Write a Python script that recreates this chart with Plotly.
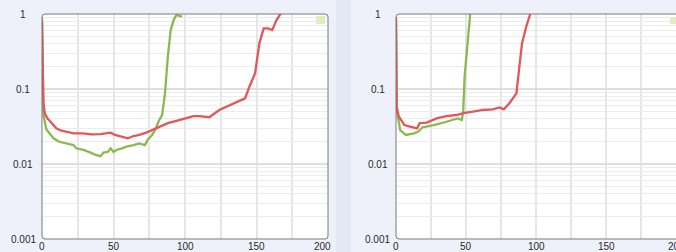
import math
import plotly.graph_objects as go

# ---------------- data ----------------
left_green_x = [0, 1, 3, 6, 8, 12, 17, 22, 24, 29, 34, 38, 41, 43, 46, 48, 50, 52, 56, 59,
                64, 68, 72, 74, 77, 79, 82, 84, 86, 88, 90, 92, 94, 98]
left_green_y = [0.9, 0.045, 0.029, 0.024, 0.022, 0.0198, 0.0188, 0.0179, 0.0162, 0.0154,
                0.0142, 0.0131, 0.0127, 0.0142, 0.0145, 0.0162, 0.0145, 0.0154, 0.0162, 0.0170,
                0.0179, 0.0188, 0.0179, 0.0211, 0.0244, 0.0283, 0.0386, 0.045, 0.0875, 0.27,
                0.61, 0.83, 0.97, 0.92]

left_red_x = [0, 1, 2, 4, 6, 9, 10, 13, 17, 22, 29, 34, 41, 48, 51, 55, 57, 60, 64, 68,
              73, 78, 82, 88, 94, 100, 106, 110, 117, 124, 134, 142, 145, 149, 152, 155,
              158, 161, 164, 167]
left_red_y = [0.8, 0.065, 0.047, 0.04, 0.0366, 0.031, 0.0299, 0.028, 0.027, 0.0256, 0.0256,
              0.0249, 0.025, 0.0262, 0.0244, 0.0232, 0.0226, 0.022, 0.0236, 0.0244, 0.0262,
              0.029, 0.0315, 0.035, 0.0375, 0.040, 0.0436, 0.0436, 0.042, 0.0525, 0.0645,
              0.075, 0.107, 0.161, 0.406, 0.644, 0.644, 0.61, 0.83, 1.02]

right_red_x = [0, 0.5, 2, 6, 10, 15, 17, 22, 29, 36, 43, 49, 55, 62, 69, 74, 77, 81, 86,
               88, 90, 93, 96]
right_red_y = [0.9, 0.058, 0.043, 0.033, 0.0315, 0.0299, 0.035, 0.0357, 0.0406, 0.0436,
               0.045, 0.048, 0.0498, 0.0525, 0.0536, 0.0568, 0.0536, 0.0645, 0.0875, 0.179,
               0.406, 0.677, 1.02]

right_green_x = [0, 0.5, 3, 7, 13, 16, 19, 27, 36, 44, 47, 48, 49, 51, 53]
right_green_y = [0.9, 0.0525, 0.0283, 0.0244, 0.0256, 0.027, 0.0309, 0.033, 0.0366, 0.0406,
                 0.0386, 0.0498, 0.146, 0.406, 1.0]

y_tick_vals = [1, 0.1, 0.01, 0.001]
y_tick_text = ["1", "0.1", "0.01", "0.001"]
x_tick_vals = [0, 50, 100, 150, 200]
x_tick_text = ["0", "50", "100", "150", "200"]

# ---------------- layout geometry (pixels) ----------------
W, H = 676, 252
L1, R1 = 42, 328
L2, R2 = 396, 676
T, B = 14, 239

RED = "#e2575a"
GREEN = "#8cb94f"
FONT = dict(family="Liberation Sans, Arial, sans-serif", size=10, color="#2a2a2a")
XLAB_CENTER_Y = 246.5  # pixel row of x tick label centres


def px(x):
    return x / W


def py(y):
    return 1 - y / H


def rounded(l, r, t, b, rad=3):
    pts = [
        ("M", (l + rad, t)), ("L", (r - rad, t)), ("Q", (r, t), (r, t + rad)),
        ("L", (r, b - rad)), ("Q", (r, b), (r - rad, b)), ("L", (l + rad, b)),
        ("Q", (l, b), (l, b - rad)), ("L", (l, t + rad)), ("Q", (l, t), (l + rad, t)),
    ]
    s = ""
    for item in pts:
        cmd = item[0]
        coords = " ".join(f"{px(a):.5f},{py(bb):.5f}" for a, bb in item[1:])
        s += f"{cmd} {coords} "
    return s + "Z"


fig = go.Figure()
fig.add_trace(go.Scatter(x=left_green_x, y=left_green_y, mode="lines", xaxis="x", yaxis="y",
                         line=dict(color=GREEN, width=2.3), showlegend=False))
fig.add_trace(go.Scatter(x=left_red_x, y=left_red_y, mode="lines", xaxis="x", yaxis="y",
                         line=dict(color=RED, width=2.3), showlegend=False))
fig.add_trace(go.Scatter(x=right_green_x, y=right_green_y, mode="lines", xaxis="x2", yaxis="y2",
                         line=dict(color=GREEN, width=2.3), showlegend=False))
fig.add_trace(go.Scatter(x=right_red_x, y=right_red_y, mode="lines", xaxis="x2", yaxis="y2",
                         line=dict(color=RED, width=2.3), showlegend=False))

xcommon = dict(range=[0, 200], showgrid=True, gridcolor="#e6e6e6", gridwidth=2,
               minor=dict(dtick=25, showgrid=True, gridcolor="#e6e6e6", gridwidth=2),
               zeroline=False, showline=False, ticks="", showticklabels=False,
               fixedrange=True)
ycommon = dict(type="log", range=[-3, 0], dtick=1, showgrid=True, gridcolor="#dedede",
               gridwidth=1.5,
               minor=dict(dtick="D1", showgrid=True, gridcolor="#ececec", gridwidth=1),
               zeroline=False, showline=False, ticks="", showticklabels=False,
               domain=[py(B), py(T)], fixedrange=True)

xa1 = dict(xcommon, domain=[px(L1), px(R1)], anchor="y", tickvals=x_tick_vals)
xa2 = dict(xcommon, domain=[px(L2), 1.0], anchor="y2", tickvals=x_tick_vals)

annotations = []
# y tick labels, centred in the gutter left of each panel
for ax, center in (("y", 23.5), ("y2", 377.5)):
    for v, t in zip(y_tick_vals, y_tick_text):
        annotations.append(dict(text=t, xref="paper", x=px(center), yref=ax, y=math.log10(v),
                                xanchor="center", yanchor="middle", showarrow=False, font=FONT))
# x tick labels under each panel (last one of the left panel pulled inward)
for ax in ("x", "x2"):
    for v, t in zip(x_tick_vals, x_tick_text):
        shift = -6 if (ax == "x" and v == 200) else 0
        annotations.append(dict(text=t, xref=ax, x=v, yref="paper", y=py(XLAB_CENTER_Y),
                                xanchor="center", yanchor="middle", xshift=shift,
                                showarrow=False, font=FONT))

shapes = [
    dict(type="rect", xref="paper", yref="paper", x0=px(336), x1=px(351), y0=0, y1=1,
         fillcolor="#e2e7f3", line=dict(width=0), layer="below"),
    dict(type="path", xref="paper", yref="paper", path=rounded(L1, R1, T, B),
         fillcolor="white", line=dict(width=0), layer="below"),
    dict(type="path", xref="paper", yref="paper", path=rounded(L2, R2 + 6, T, B),
         fillcolor="white", line=dict(width=0), layer="below"),
    dict(type="path", xref="paper", yref="paper", path=rounded(L1, R1, T, B),
         fillcolor="rgba(0,0,0,0)", line=dict(width=1, color="#7a7a7a"), layer="above"),
    dict(type="path", xref="paper", yref="paper", path=rounded(L2, R2 + 6, T, B),
         fillcolor="rgba(0,0,0,0)", line=dict(width=1, color="#7a7a7a"), layer="above"),
    # faint legend swatches at top-right of each panel
    dict(type="rect", xref="paper", yref="paper", x0=px(316), x1=px(325), y0=py(24), y1=py(16),
         fillcolor="#e3ecc0", line=dict(width=0), layer="above"),
    dict(type="rect", xref="paper", yref="paper", x0=px(670), x1=px(677), y0=py(24), y1=py(17),
         fillcolor="#e3ecc0", line=dict(width=0), layer="above"),
]

fig.update_layout(
    width=W, height=H, margin=dict(l=0, r=0, t=0, b=0),
    paper_bgcolor="#eef1f9", plot_bgcolor="rgba(0,0,0,0)",
    xaxis=xa1, xaxis2=xa2,
    yaxis=dict(ycommon, anchor="x"), yaxis2=dict(ycommon, anchor="x2"),
    annotations=annotations, shapes=shapes, showlegend=False,
)

fig.write_html(
    "out.html",
    config={"displayModeBar": False, "staticPlot": True},
    post_script="document.body.style.margin='0';document.body.style.padding='0';"
                "document.body.style.overflow='hidden';",
)
